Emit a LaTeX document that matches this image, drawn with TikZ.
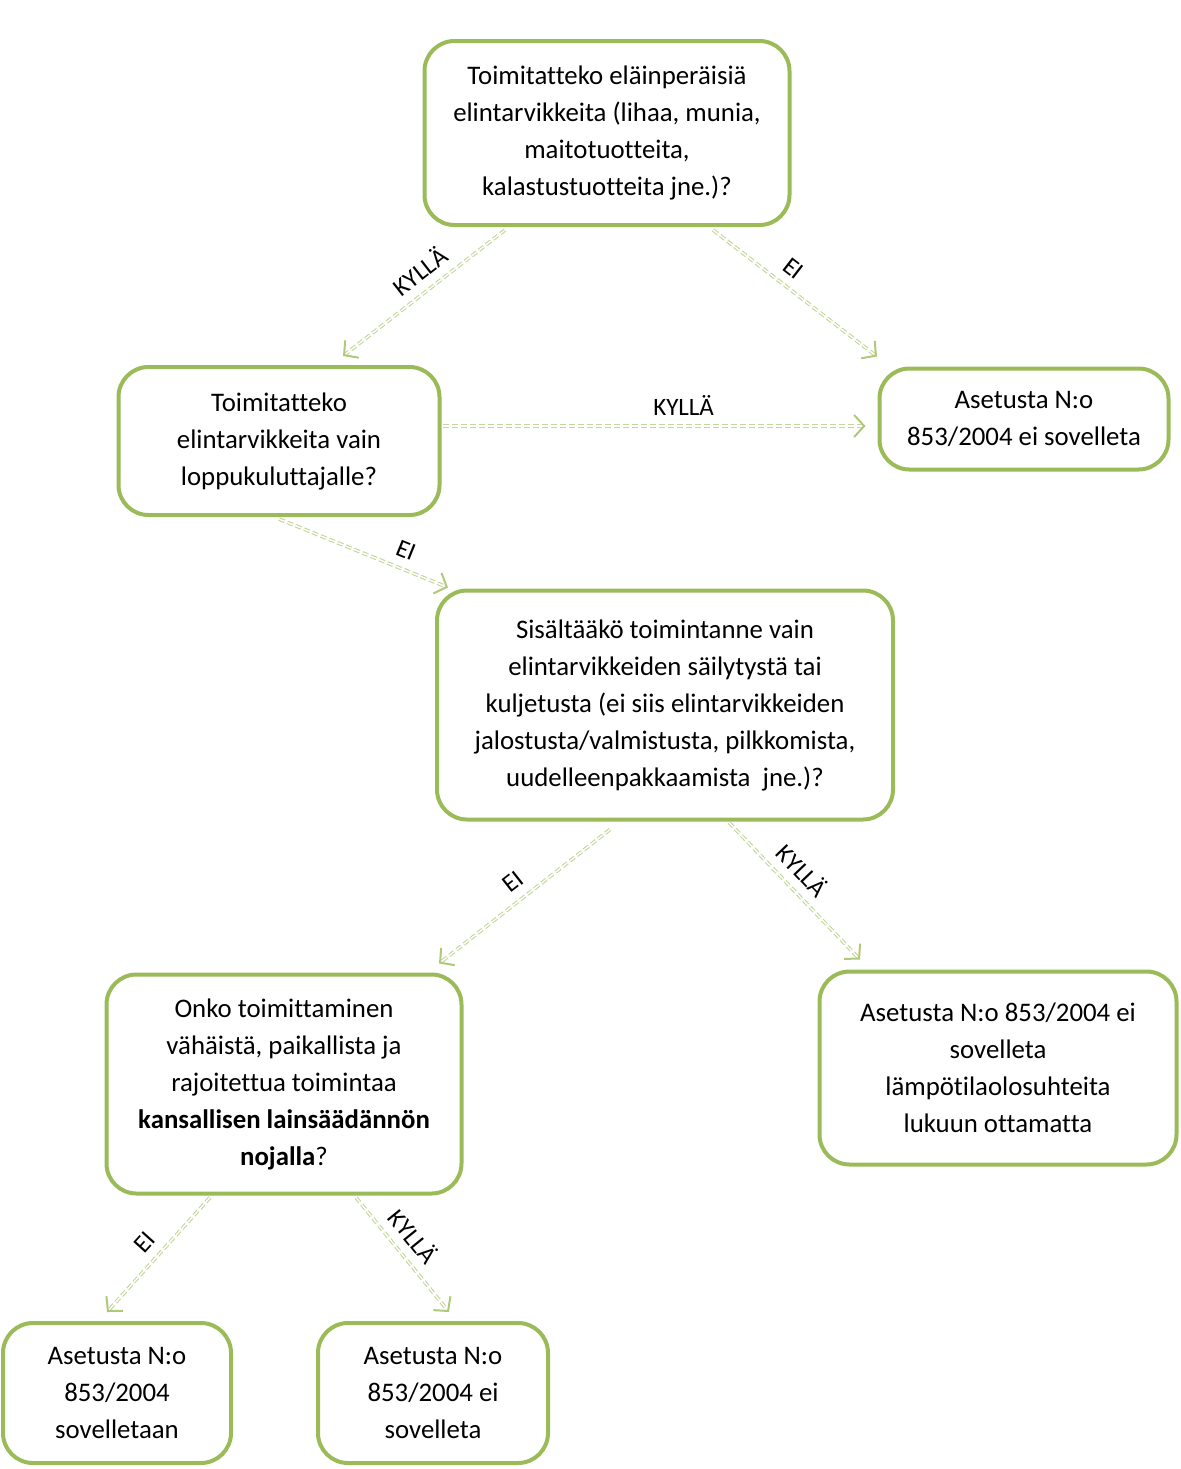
\documentclass[tikz,border=0pt]{standalone}
\usepackage{fontspec}
\setmainfont[Ligatures=NoCommon]{Carlito}
\usetikzlibrary{arrows.meta}
\definecolor{boxgreen}{RGB}{155,187,89}
\definecolor{flowgreen}{RGB}{195,214,155}
\tikzset{
  qbox/.style={draw=boxgreen,line width=2pt,rounded corners=15pt,fill=white,
    align=center,font=\fontsize{13.4}{18.5}\selectfont,inner sep=4pt},
  flow/.style={draw=flowgreen,line width=0.55pt,double=white,double distance=0.7pt,
    dash pattern=on 3pt off 1.5pt,
    -{Straight Barb[length=5pt,width=11pt,line width=1pt,color=boxgreen!80!white,sep=0pt]}},
  ans/.style={font=\fontsize{12.5}{14}\selectfont,sloped,above,inner sep=5pt}
}
\begin{document}
\begin{tikzpicture}[x=0.5pt,y=-0.5pt]
  \useasboundingbox (0,0) rectangle (1181,1469);
  \node[qbox,minimum width=182.5pt,minimum height=92pt] (animal) at (607,133)
    {Toimitatteko eläinperäisiä\\elintarvikkeita (lihaa, munia,\\maitotuotteita,\\kalastustuotteita jne.)?};
  \node[qbox,minimum width=160.5pt,minimum height=74pt] (consumer) at (279,441)
    {Toimitatteko\\elintarvikkeita vain\\loppukuluttajalle?};
  \node[qbox,minimum width=144.5pt,minimum height=50.5pt] (noapply) at (1024,419)
    {Asetusta N:o\\853/2004 ei sovelleta};
  \node[qbox,minimum width=228pt,minimum height=114.5pt] (storage) at (665,705)
    {Sisältääkö toimintanne vain\\elintarvikkeiden säilytystä tai\\kuljetusta (ei siis elintarvikkeiden\\jalostusta/valmistusta, pilkkomista,\\uudelleenpakkaamista~ jne.)?};
  \node[qbox,minimum width=177.5pt,minimum height=109.5pt] (minor) at (284,1084)
    {Onko toimittaminen\\vähäistä, paikallista ja\\rajoitettua toimintaa\\\textbf{kansallisen lainsäädännön}\\\textbf{nojalla}?};
  \node[qbox,minimum width=178.5pt,minimum height=96.5pt] (temp) at (998,1068)
    {Asetusta N:o 853/2004 ei\\sovelleta\\lämpötilaolosuhteita\\lukuun ottamatta};
  \node[qbox,minimum width=114pt,minimum height=70pt] (applies) at (117,1393)
    {Asetusta N:o\\853/2004\\sovelletaan};
  \node[qbox,minimum width=115pt,minimum height=70pt] (notapply) at (433,1393)
    {Asetusta N:o\\853/2004 ei\\sovelleta};

  \draw[flow] ([xshift=-51pt,yshift=-1.5pt]animal.south) --
    node[ans,pos=0.45]{KYLLÄ} ([xshift=32pt,yshift=4.5pt]consumer.north);
  \draw[flow] ([xshift=53pt,yshift=-1.5pt]animal.south) --
    node[ans,pos=0.42]{EI} ([xshift=-73.5pt,yshift=5pt]noapply.north);
  \draw[flow] ([xshift=0.5pt,yshift=7.5pt]consumer.east) --
    node[ans,pos=0.57]{KYLLÄ} ([xshift=-6pt,yshift=-3.5pt]noapply.west);
  \draw[flow] ([yshift=-1pt]consumer.south) --
    node[ans,pos=0.71]{EI} ([xshift=6.5pt,yshift=0.5pt]storage.north west);
  \draw[flow] ([xshift=-27.5pt,yshift=-4pt]storage.south) --
    node[ans,pos=0.5]{EI} ([xshift=77.5pt,yshift=4.5pt]minor.north);
  \draw[flow] ([xshift=32pt,yshift=-0.5pt]storage.south) --
    node[ans,pos=0.45]{KYLLÄ} ([xshift=-69pt,yshift=5pt]temp.north);
  \draw[flow] ([xshift=-37pt,yshift=-1pt]minor.south) --
    node[ans,pos=0.5]{EI} ([xshift=-5pt,yshift=4.5pt]applies.north);
  \draw[flow] ([xshift=36pt,yshift=-1pt]minor.south) --
    node[ans,pos=0.45]{KYLLÄ} ([xshift=8pt,yshift=4.5pt]notapply.north);
\end{tikzpicture}
\end{document}
